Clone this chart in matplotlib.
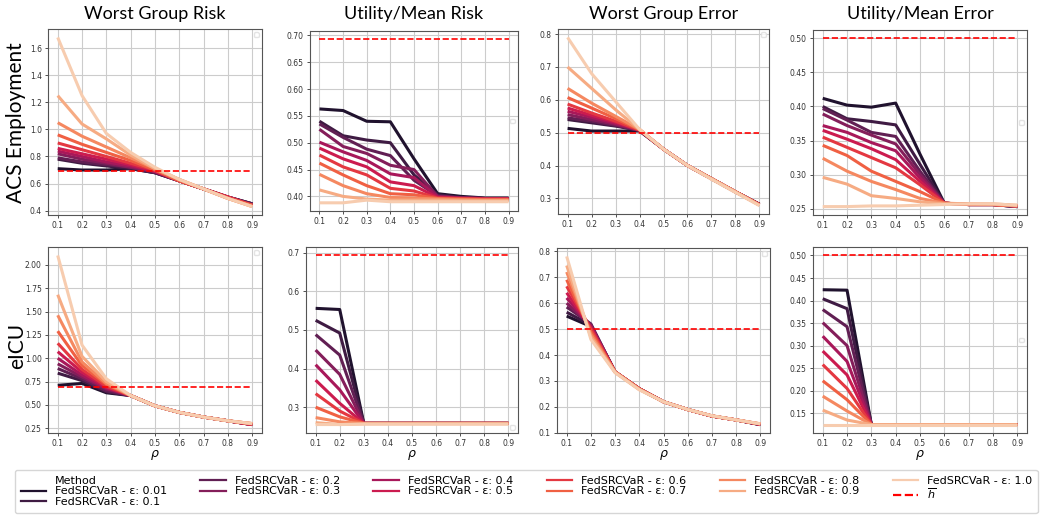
import matplotlib
matplotlib.use("Agg")
import matplotlib.pyplot as plt
import seaborn as sns
from matplotlib.lines import Line2D

rho = [0.1, 0.2, 0.3, 0.4, 0.5, 0.6, 0.7, 0.8, 0.9]
eps_labels = ["0.01", "0.1", "0.2", "0.3", "0.4", "0.5", "0.6", "0.7", "0.8", "0.9", "1.0"]
col_titles = ["Worst Group Risk", "Utility/Mean Risk", "Worst Group Error", "Utility/Mean Error"]
row_titles = ["ACS Employment", "eICU"]
h_bar = [0.693, 0.693, 0.5, 0.5]

acs_worst_risk = [
    [0.71, 0.70, 0.70, 0.71, 0.68, 0.62, 0.56, 0.50, 0.45],
    [0.78, 0.75, 0.73, 0.71, 0.68, 0.62, 0.56, 0.50, 0.45],
    [0.79, 0.76, 0.74, 0.72, 0.68, 0.62, 0.56, 0.50, 0.45],
    [0.82, 0.78, 0.75, 0.72, 0.69, 0.62, 0.56, 0.50, 0.44],
    [0.84, 0.80, 0.76, 0.73, 0.69, 0.62, 0.56, 0.50, 0.44],
    [0.86, 0.82, 0.78, 0.74, 0.69, 0.62, 0.56, 0.50, 0.44],
    [0.90, 0.85, 0.80, 0.75, 0.70, 0.62, 0.56, 0.50, 0.44],
    [0.96, 0.89, 0.83, 0.77, 0.70, 0.62, 0.56, 0.49, 0.44],
    [1.05, 0.95, 0.87, 0.79, 0.71, 0.63, 0.56, 0.49, 0.43],
    [1.25, 1.04, 0.93, 0.81, 0.71, 0.63, 0.56, 0.49, 0.43],
    [1.68, 1.25, 0.97, 0.83, 0.72, 0.63, 0.56, 0.49, 0.43],
]
acs_mean_risk = [
    [0.563, 0.560, 0.540, 0.539, 0.470, 0.405, 0.400, 0.397, 0.397],
    [0.540, 0.513, 0.505, 0.500, 0.440, 0.403, 0.398, 0.396, 0.396],
    [0.535, 0.510, 0.488, 0.476, 0.430, 0.401, 0.397, 0.396, 0.396],
    [0.525, 0.493, 0.480, 0.458, 0.450, 0.400, 0.397, 0.396, 0.396],
    [0.501, 0.483, 0.467, 0.442, 0.435, 0.399, 0.397, 0.396, 0.396],
    [0.490, 0.470, 0.455, 0.427, 0.420, 0.398, 0.396, 0.395, 0.395],
    [0.477, 0.455, 0.440, 0.415, 0.410, 0.397, 0.396, 0.395, 0.395],
    [0.462, 0.440, 0.420, 0.405, 0.403, 0.396, 0.395, 0.394, 0.394],
    [0.441, 0.420, 0.405, 0.398, 0.397, 0.395, 0.394, 0.393, 0.393],
    [0.412, 0.400, 0.395, 0.393, 0.393, 0.393, 0.392, 0.392, 0.392],
    [0.388, 0.388, 0.393, 0.390, 0.390, 0.390, 0.390, 0.390, 0.390],
]
acs_worst_err = [
    [0.513, 0.505, 0.505, 0.505, 0.450, 0.400, 0.360, 0.320, 0.282],
    [0.540, 0.530, 0.520, 0.507, 0.450, 0.400, 0.360, 0.320, 0.282],
    [0.545, 0.535, 0.522, 0.507, 0.450, 0.400, 0.360, 0.320, 0.282],
    [0.555, 0.540, 0.525, 0.507, 0.450, 0.400, 0.360, 0.320, 0.281],
    [0.565, 0.547, 0.528, 0.508, 0.450, 0.400, 0.360, 0.320, 0.281],
    [0.575, 0.553, 0.532, 0.508, 0.450, 0.400, 0.360, 0.320, 0.281],
    [0.587, 0.560, 0.535, 0.508, 0.450, 0.400, 0.360, 0.320, 0.281],
    [0.607, 0.575, 0.543, 0.509, 0.450, 0.400, 0.360, 0.320, 0.280],
    [0.635, 0.590, 0.550, 0.510, 0.450, 0.400, 0.360, 0.320, 0.280],
    [0.700, 0.635, 0.570, 0.510, 0.450, 0.400, 0.360, 0.320, 0.279],
    [0.790, 0.680, 0.595, 0.510, 0.450, 0.400, 0.358, 0.318, 0.278],
]
acs_mean_err = [
    [0.412, 0.402, 0.399, 0.405, 0.330, 0.258, 0.256, 0.256, 0.253],
    [0.400, 0.382, 0.378, 0.373, 0.315, 0.258, 0.256, 0.256, 0.253],
    [0.397, 0.380, 0.362, 0.356, 0.305, 0.258, 0.256, 0.256, 0.253],
    [0.389, 0.372, 0.358, 0.345, 0.300, 0.258, 0.256, 0.256, 0.253],
    [0.372, 0.362, 0.347, 0.335, 0.295, 0.258, 0.256, 0.256, 0.254],
    [0.365, 0.352, 0.338, 0.322, 0.290, 0.258, 0.256, 0.256, 0.254],
    [0.355, 0.340, 0.325, 0.310, 0.285, 0.258, 0.256, 0.256, 0.254],
    [0.343, 0.328, 0.305, 0.290, 0.275, 0.258, 0.256, 0.256, 0.254],
    [0.324, 0.305, 0.290, 0.278, 0.265, 0.258, 0.257, 0.256, 0.254],
    [0.296, 0.286, 0.269, 0.265, 0.260, 0.257, 0.257, 0.257, 0.255],
    [0.253, 0.253, 0.254, 0.254, 0.255, 0.256, 0.257, 0.257, 0.255],
]
eicu_worst_risk = [
    [0.71, 0.73, 0.63, 0.60, 0.49, 0.42, 0.37, 0.33, 0.29],
    [0.84, 0.76, 0.64, 0.60, 0.49, 0.42, 0.37, 0.33, 0.29],
    [0.89, 0.78, 0.65, 0.60, 0.49, 0.42, 0.37, 0.33, 0.29],
    [0.94, 0.80, 0.67, 0.60, 0.49, 0.42, 0.37, 0.33, 0.29],
    [1.00, 0.82, 0.68, 0.60, 0.49, 0.42, 0.37, 0.33, 0.29],
    [1.07, 0.85, 0.69, 0.60, 0.49, 0.42, 0.37, 0.33, 0.29],
    [1.16, 0.88, 0.70, 0.60, 0.49, 0.42, 0.37, 0.33, 0.29],
    [1.29, 0.92, 0.72, 0.60, 0.49, 0.42, 0.37, 0.33, 0.30],
    [1.46, 0.96, 0.73, 0.60, 0.49, 0.42, 0.37, 0.33, 0.30],
    [1.68, 1.02, 0.75, 0.60, 0.49, 0.42, 0.37, 0.33, 0.30],
    [2.10, 1.14, 0.78, 0.60, 0.49, 0.42, 0.37, 0.33, 0.30],
]
eicu_mean_risk = [
    [0.556, 0.553, 0.258, 0.258, 0.258, 0.258, 0.258, 0.258, 0.258],
    [0.525, 0.492, 0.258, 0.258, 0.258, 0.258, 0.258, 0.258, 0.258],
    [0.488, 0.435, 0.258, 0.258, 0.258, 0.258, 0.258, 0.258, 0.258],
    [0.448, 0.385, 0.258, 0.258, 0.258, 0.258, 0.258, 0.258, 0.258],
    [0.410, 0.345, 0.258, 0.258, 0.258, 0.258, 0.258, 0.258, 0.258],
    [0.370, 0.310, 0.258, 0.258, 0.258, 0.258, 0.258, 0.258, 0.258],
    [0.335, 0.290, 0.258, 0.258, 0.258, 0.258, 0.258, 0.258, 0.258],
    [0.300, 0.275, 0.258, 0.258, 0.258, 0.258, 0.258, 0.258, 0.258],
    [0.273, 0.262, 0.258, 0.258, 0.258, 0.258, 0.258, 0.258, 0.258],
    [0.260, 0.255, 0.257, 0.257, 0.257, 0.257, 0.257, 0.257, 0.257],
    [0.255, 0.255, 0.256, 0.256, 0.256, 0.256, 0.256, 0.256, 0.256],
]
eicu_worst_err = [
    [0.550, 0.510, 0.335, 0.270, 0.220, 0.190, 0.165, 0.150, 0.132],
    [0.565, 0.515, 0.335, 0.270, 0.220, 0.190, 0.165, 0.150, 0.132],
    [0.585, 0.520, 0.335, 0.270, 0.220, 0.190, 0.165, 0.150, 0.132],
    [0.600, 0.515, 0.335, 0.270, 0.220, 0.190, 0.165, 0.150, 0.133],
    [0.620, 0.510, 0.335, 0.270, 0.220, 0.190, 0.165, 0.150, 0.133],
    [0.640, 0.505, 0.335, 0.270, 0.220, 0.190, 0.165, 0.150, 0.133],
    [0.665, 0.500, 0.335, 0.270, 0.220, 0.190, 0.165, 0.150, 0.134],
    [0.690, 0.490, 0.335, 0.270, 0.220, 0.190, 0.165, 0.150, 0.134],
    [0.720, 0.480, 0.335, 0.268, 0.220, 0.190, 0.166, 0.150, 0.135],
    [0.745, 0.470, 0.333, 0.267, 0.220, 0.190, 0.166, 0.150, 0.135],
    [0.780, 0.460, 0.332, 0.266, 0.220, 0.190, 0.166, 0.150, 0.135],
]
eicu_mean_err = [
    [0.424, 0.423, 0.125, 0.125, 0.125, 0.125, 0.125, 0.125, 0.125],
    [0.404, 0.382, 0.125, 0.125, 0.125, 0.125, 0.125, 0.125, 0.125],
    [0.380, 0.342, 0.125, 0.125, 0.125, 0.125, 0.125, 0.125, 0.125],
    [0.351, 0.300, 0.125, 0.125, 0.125, 0.125, 0.125, 0.125, 0.125],
    [0.321, 0.265, 0.125, 0.125, 0.125, 0.125, 0.125, 0.125, 0.125],
    [0.288, 0.235, 0.125, 0.125, 0.125, 0.125, 0.125, 0.125, 0.125],
    [0.258, 0.205, 0.125, 0.125, 0.125, 0.125, 0.125, 0.125, 0.125],
    [0.222, 0.180, 0.125, 0.125, 0.125, 0.125, 0.125, 0.125, 0.125],
    [0.188, 0.155, 0.125, 0.125, 0.125, 0.125, 0.125, 0.125, 0.125],
    [0.157, 0.135, 0.125, 0.125, 0.125, 0.125, 0.125, 0.125, 0.125],
    [0.125, 0.125, 0.125, 0.125, 0.125, 0.125, 0.125, 0.125, 0.125],
]

panels = [
    [acs_worst_risk, acs_mean_risk, acs_worst_err, acs_mean_err],
    [eicu_worst_risk, eicu_mean_risk, eicu_worst_err, eicu_mean_err],
]

W, H = 1041, 519
# axes boxes in pixels: left, top, right, bottom
boxes = [
    [(48, 29, 262, 215), (310, 31, 518, 211), (558, 29, 769, 214), (813, 30, 1027, 215)],
    [(48, 247, 262, 433), (306, 247, 518, 433), (557, 248, 770, 433), (813, 247, 1027, 433)],
]
empty_leg_loc = [
    ["upper right", "center right", "upper right", "center right"],
    ["upper right", "lower right", "upper right", "center right"],
]

colors = sns.color_palette("rocket", len(eps_labels))

fig = plt.figure(figsize=(W / 100, H / 100), dpi=100)
title_font = ["Lato", "DejaVu Sans"]

for r in range(2):
    for c in range(4):
        l, t, rr, b = boxes[r][c]
        ax = fig.add_axes([l / W, 1 - b / H, (rr - l) / W, (b - t) / H])
        for i, series in enumerate(panels[r][c]):
            ax.plot(rho, series, color=colors[i], lw=2.2, solid_capstyle="butt", zorder=3)
        ax.plot(rho, [h_bar[c]] * len(rho), color="red", ls="--", lw=1.2, zorder=4)
        ax.set_xticks(rho)
        ax.grid(True, color="#cccccc", lw=0.8)
        ax.set_axisbelow(True)
        ax.tick_params(labelsize=5.5, length=2.5, width=0.6, pad=2, colors="#333333")
        for s in ax.spines.values():
            s.set_color("#555555")
            s.set_linewidth(0.8)
        if r == 1:
            ax.set_xlabel(r"$\rho$", fontsize=9, labelpad=0)
        leg = ax.legend(handles=[], loc=empty_leg_loc[r][c], frameon=True,
                        borderpad=0.35, fontsize=5)
        leg.get_frame().set_edgecolor("#dddddd")
        if r == 0:
            fig.text(((l + rr) / 2) / W, 1 - 14 / H, col_titles[c], ha="center", va="center",
                     fontsize=13, family=title_font)

fig.text(16 / W, 1 - 123 / H, row_titles[0], rotation=90, ha="center", va="center",
         fontsize=15, family=title_font)
fig.text(17 / W, 1 - 346 / H, row_titles[1], rotation=90, ha="center", va="center",
         fontsize=15, family=title_font)

handles = [Line2D([], [], color="none", lw=0)]
labels = ["Method"]
for i, e in enumerate(eps_labels):
    handles.append(Line2D([], [], color=colors[i], lw=1.6))
    labels.append(f"FedSRCVaR - ε: {e}")
handles.append(Line2D([], [], color="red", ls="--", lw=1.6))
labels.append(r"$\overline{h}$")

fig.legend(handles, labels, ncol=6, loc="upper left",
           bbox_to_anchor=(15 / W, 1 - 470 / H), borderaxespad=0,
           fontsize=8, frameon=True,
           handlelength=2.3, handletextpad=0.8, columnspacing=3.0,
           labelspacing=0.08, borderpad=0.5, fancybox=True).get_frame().set_edgecolor("#cccccc")

fig.savefig("out.png", dpi=100)
